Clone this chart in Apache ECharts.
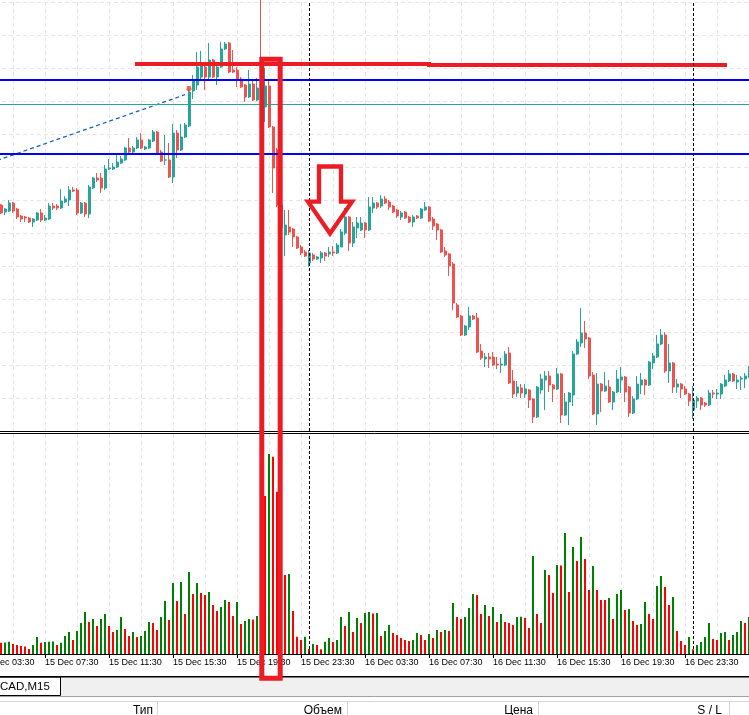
<!DOCTYPE html>
<html><head><meta charset="utf-8">
<script src="https://cdn.jsdelivr.net/npm/echarts@6/dist/echarts.min.js"></script>
<style>html,body{margin:0;padding:0;background:#fff;overflow:hidden}#c{width:749px;height:715px}</style>
</head><body><div id="c"></div><script>
// USDCAD M15, prices in points (price x 10000)
const LEAD = 5; // bars before the first visible one (15 Dec 03:30 .. 04:30)
const categories = [];
for (let i = 0; i < 193; i++) {
  const t = 3 * 60 + 30 + i * 15;
  const day = 15 + Math.floor(t / 1440), m = t % 1440;
  categories.push(day + ' Dec ' + String(Math.floor(m / 60)).padStart(2, '0') + ':' + String(m % 60).padStart(2, '0'));
}
const open = [
13294,13287,13288,13296,13290,13283,13282,13281,13277,13279,
13286,13279,13280,13293,13293,13291,13297,13299,13309,13309,
13286,13296,13285,13311,13321,13321,13311,13330,13330,13332,
13336,13339,13351,13347,13351,13359,13350,13351,13358,13367,
13347,13339,13339,13322,13366,13349,13362,13373,13408,13414,
13422,13432,13422,13439,13422,13432,13450,13456,13429,13429,
13420,13414,13402,13415,13399,13411,13392,13413,13372,13349,
13294,13264,13272,13270,13262,13252,13247,13236,13244,13240,
13241,13246,13245,13247,13246,13252,13266,13282,13256,13271,
13269,13276,13269,13291,13296,13293,13300,13297,13293,13289,
13282,13287,13282,13277,13283,13281,13289,13292,13280,13275,
13269,13248,13245,13235,13194,13183,13164,13172,13183,13181,
13148,13140,13142,13142,13135,13134,13134,13146,13118,13106,
13111,13105,13109,13100,13082,13109,13119,13123,13114,13110,
13125,13084,13097,13104,13145,13156,13166,13161,13124,13085,
13115,13108,13112,13097,13107,13119,13122,13112,13086,13100,
13114,13119,13114,13136,13142,13155,13164,13128,13136,13112,
13115,13110,13105,13089,13098,13101,13096,13094,13106,13105,
13105,13113,13118,13125,13117,13120,13120,13122];
const high = [
13295,13291,13299,13297,13291,13284,13283,13282,13281,13287,
13290,13284,13296,13296,13295,13310,13303,13313,13312,13311,
13297,13297,13314,13322,13326,13326,13334,13340,13336,13346,
13343,13352,13361,13353,13362,13366,13353,13360,13369,13368,
13349,13364,13356,13375,13369,13375,13376,13411,13424,13447,
13448,13436,13456,13440,13436,13457,13457,13457,13449,13432,
13422,13415,13429,13419,13421,13499,13431,13419,13373,13351,
13299,13289,13289,13271,13263,13254,13249,13249,13246,13243,
13248,13247,13252,13253,13256,13270,13291,13283,13277,13282,
13282,13277,13302,13302,13297,13304,13303,13299,13294,13290,
13288,13288,13283,13284,13284,13291,13297,13293,13282,13276,
13270,13252,13246,13237,13196,13184,13174,13192,13184,13186,
13155,13146,13146,13147,13142,13141,13148,13152,13129,13118,
13115,13115,13110,13101,13113,13125,13128,13128,13115,13131,
13126,13106,13107,13148,13160,13191,13178,13162,13127,13126,
13116,13127,13119,13108,13129,13132,13123,13113,13103,13123,
13126,13120,13138,13146,13164,13170,13167,13155,13137,13120,
13116,13113,13106,13113,13103,13102,13097,13109,13109,13110,
13116,13124,13129,13126,13124,13123,13126,13133];
const low = [
13285,13284,13287,13286,13280,13277,13277,13276,13272,13278,
13277,13278,13279,13289,13289,13290,13296,13293,13307,13284,
13285,13282,13281,13310,13317,13306,13309,13329,13329,13331,
13335,13338,13346,13346,13350,13350,13349,13350,13357,13344,
13337,13334,13321,13316,13341,13348,13361,13372,13400,13409,
13419,13409,13419,13421,13414,13431,13449,13426,13426,13412,
13411,13397,13401,13398,13398,13389,13377,13371,13306,13292,
13267,13243,13264,13252,13250,13244,13242,13232,13238,13239,
13236,13238,13242,13243,13245,13252,13264,13248,13252,13261,
13268,13261,13268,13286,13290,13291,13295,13289,13286,13281,
13279,13280,13276,13272,13280,13280,13288,13277,13269,13259,
13246,13242,13223,13189,13181,13163,13163,13169,13179,13146,
13139,13132,13131,13133,13130,13126,13133,13115,13101,13102,
13101,13101,13091,13076,13081,13105,13089,13107,13097,13109,
13076,13083,13074,13093,13144,13152,13151,13120,13084,13074,
13087,13107,13096,13089,13106,13106,13097,13082,13085,13099,
13105,13104,13113,13130,13141,13154,13126,13116,13106,13106,
13101,13104,13093,13080,13091,13089,13092,13093,13101,13100,
13100,13112,13117,13117,13110,13109,13111,13121];
const close = [
13286,13290,13296,13288,13282,13280,13281,13277,13280,13286,
13279,13281,13293,13291,13291,13298,13300,13309,13308,13286,
13296,13285,13312,13321,13319,13311,13330,13331,13332,13337,
13340,13351,13347,13351,13359,13351,13352,13359,13367,13346,
13338,13339,13322,13366,13349,13362,13374,13407,13419,13432,
13436,13422,13439,13422,13432,13450,13455,13427,13427,13420,
13412,13402,13415,13399,13411,13392,13413,13372,13331,13294,
13271,13274,13267,13262,13251,13246,13243,13246,13240,13242,
13246,13243,13247,13246,13254,13267,13282,13256,13272,13276,
13276,13269,13292,13296,13292,13300,13296,13292,13287,13283,
13286,13281,13277,13282,13281,13290,13292,13278,13273,13269,
13247,13244,13233,13196,13182,13164,13173,13183,13180,13147,
13141,13142,13140,13134,13134,13135,13145,13116,13105,13112,
13106,13110,13099,13082,13112,13120,13123,13114,13110,13125,
13084,13097,13106,13145,13157,13166,13160,13123,13085,13115,
13108,13113,13097,13107,13120,13122,13107,13086,13100,13115,
13119,13114,13137,13143,13155,13164,13128,13136,13112,13115,
13110,13105,13098,13099,13101,13094,13094,13106,13105,13106,
13115,13119,13125,13118,13119,13121,13123,13131];
const volume = [
113,115,123,100,90,80,75,50,90,170,
113,120,122,124,90,113,180,220,140,230,
310,420,320,350,280,350,400,280,220,240,
370,250,180,220,170,180,230,320,310,240,
370,530,340,710,530,720,400,820,600,710,
610,590,620,490,430,470,540,520,380,520,
300,330,350,345,380,1650,1580,2000,1973,1623,
1200,790,800,430,173,140,173,50,100,90,
47,123,160,120,140,370,280,420,220,360,
310,410,420,405,410,180,230,290,210,190,
160,140,130,140,210,190,140,200,160,240,
220,240,230,510,370,350,370,460,600,590,
400,490,380,470,320,400,320,310,290,370,
372,360,260,980,400,310,840,790,610,890,
885,1210,620,1070,930,1170,950,640,880,640,
540,539,560,350,600,640,440,450,330,290,
300,520,400,350,680,780,670,490,570,230,
130,90,170,47,90,120,170,310,150,140,
210,220,140,190,220,330,310,370];
// chart objects
const blueLevels = [13419.3, 13345];
const tealLevel = 13395;
const redLevelA = 13435, redLevelB = 13434;
const trendLine = [[4, 13338.5], [51, 13404.3]]; // [category index, price]
const arrowMark = [52, 13410];
const daySeparators = ['16 Dec 00:00', '17 Dec 00:00'];

const blanks = Array(LEAD).fill('-');
const candleData = blanks.concat(open.map((o, i) => [o, close[i], low[i], high[i]]));
const volData = blanks.concat(volume.map((v, i) => ({
  value: v,
  itemStyle: { color: (i > 0 && v > volume[i - 1]) ? '#008000' : '#ff0000' }
})));

const GRIDCOL = '#e6e6e6';
const vSplit = { show: true, interval: (i) => i % 8 === 0, lineStyle: { color: GRIDCOL, type: [4, 3], width: 1 } };
const sepLine = (name) => ({ xAxis: name, lineStyle: { color: '#000', type: [3, 2], width: 1 } });

const chart = echarts.init(document.getElementById('c'), null, { renderer: 'canvas' });
const option = {
  animation: false,
  backgroundColor: '#fff',
  grid: [
    { left: -19, right: 0, top: 2, height: 429, outerBoundsMode: 'none', containLabel: false },
    { left: -19, right: 0, top: 434, height: 220, outerBoundsMode: 'none', containLabel: false }
  ],
  xAxis: [
    { type: 'category', gridIndex: 0, data: categories, boundaryGap: false,
      axisLine: { show: false }, axisTick: { show: false }, axisLabel: { show: false }, splitLine: vSplit },
    { type: 'category', gridIndex: 1, data: categories, boundaryGap: false,
      axisLine: { show: true, lineStyle: { color: '#000', width: 1 } },
      axisTick: { show: true, interval: (i) => i % 16 === 0, length: 4, lineStyle: { color: '#000' } },
      axisLabel: { show: true, interval: (i) => i % 16 === 0, align: 'left', margin: 4, hideOverlap: false,
        fontFamily: 'Liberation Sans', fontSize: 9, color: '#000' },
      splitLine: vSplit }
  ],
  yAxis: [
    { type: 'value', gridIndex: 0, min: 13068, max: 13497, interval: 33,
      axisLabel: { show: false }, axisLine: { show: false }, axisTick: { show: false },
      splitLine: { show: true, lineStyle: { color: GRIDCOL, type: [4, 3], width: 1 } } },
    { type: 'value', gridIndex: 1, min: 0, max: 2200,
      axisLabel: { show: false }, axisLine: { show: false }, axisTick: { show: false }, splitLine: { show: false } }
  ],
  series: [
    { type: 'candlestick', xAxisIndex: 0, yAxisIndex: 0, data: candleData, barWidth: 2.5, clip: false, z: 2,
      itemStyle: { color: '#26a69a', color0: '#ef5350', borderColor: '#26a69a', borderColor0: '#ef5350', borderWidth: 1 } },
    { type: 'bar', xAxisIndex: 1, yAxisIndex: 1, data: volData, barWidth: 2, z: 2 },
    { type: 'line', xAxisIndex: 0, yAxisIndex: 0, z: 4, silent: true, symbol: 'none',
      data: trendLine.map(p => [categories[p[0]], p[1]]),
      lineStyle: { color: '#1a5fb4', width: 1.3, type: [4, 3] },
      markLine: { silent: true, symbol: ['none', 'none'], label: { show: false }, animation: false,
        data: [
          { yAxis: blueLevels[0], lineStyle: { color: '#0000ff', width: 2, type: 'solid' } },
          { yAxis: blueLevels[1], lineStyle: { color: '#0000ff', width: 2, type: 'solid' } },
          { yAxis: tealLevel, lineStyle: { color: '#26a69a', width: 1, type: 'solid' } },
          [ { coord: [categories[39], redLevelA], lineStyle: { color: '#ed1c24', width: 4, type: 'solid', cap: 'square' } },
            { coord: [categories[112], redLevelA] } ],
          [ { coord: [categories[112], redLevelB], lineStyle: { color: '#ed1c24', width: 4, type: 'solid', cap: 'square' } },
            { coord: [categories[186], redLevelB] } ],
          sepLine(daySeparators[0]), sepLine(daySeparators[1])
        ] } },
    { type: 'line', xAxisIndex: 1, yAxisIndex: 1, z: 4, silent: true, symbol: 'none', data: [],
      markLine: { silent: true, symbol: ['none', 'none'], label: { show: false }, animation: false,
        data: [sepLine(daySeparators[0]), sepLine(daySeparators[1])] } },
    { type: 'scatter', xAxisIndex: 0, yAxisIndex: 0, z: 5, silent: true,
      data: [[categories[arrowMark[0]], arrowMark[1]]],
      symbol: 'path://M2,0 L8,0 L8,4 L10,4 L5,9 L0,4 L2,4 Z', symbolSize: [7, 6],
      itemStyle: { color: '#e8461e' } }
  ]
};
chart.setOption(option);

// screenshot overlays (window chrome and hand-drawn annotations)
const px = (k, v) => chart.convertToPixel({ gridIndex: 0 }, [k + LEAD, v]);
const rA = px(65, 13439.8), rB = px(70, 13439.8);
const aP = px(82, 13332.5);
const RED = '#ed1c24';
const arrowPts = [[-10, 0], [12, 0], [12, 35.2], [23, 35.2], [1, 67], [-21, 35.2], [-10, 35.2]]
  .map(p => [aP[0] + p[0], aP[1] + p[1]]);
const txt = (x, y, s, align, size) => ({ type: 'text', z: 50, x: x, y: y,
  style: { text: s, fill: '#000', font: (size || 12) + 'px "Liberation Sans"', textAlign: align || 'left', textVerticalAlign: 'top' } });
const hline = (y, x1, x2, col, w) => ({ type: 'line', z: 50, shape: { x1: x1, y1: y, x2: x2, y2: y }, style: { stroke: col, lineWidth: w || 1 } });
const vline = (x, y1, y2, col) => ({ type: 'line', z: 50, shape: { x1: x, y1: y1, x2: x, y2: y2 }, style: { stroke: col, lineWidth: 1 } });
chart.setOption({
  graphic: [
    hline(431.5, 0, 749, '#000'), hline(433.5, 0, 749, '#000'),
    { type: 'rect', z: 40, shape: { x: 0, y: 677, width: 749, height: 20 }, style: { fill: '#f0f0f0' } },
    { type: 'rect', z: 41, shape: { x: -2, y: 677, width: 62.5, height: 18.5 }, style: { fill: '#fff', stroke: '#000', lineWidth: 1 } },
    hline(676.8, 0, 749, '#000', 1.6),
    hline(696.5, 0, 749, '#a0a0a0'),
    hline(701.5, 0, 749, '#d4d4d4'),
    vline(157.5, 702, 715, '#d4d4d4'), vline(347.5, 702, 715, '#d4d4d4'),
    vline(538.5, 702, 715, '#d4d4d4'), vline(729.5, 702, 715, '#d4d4d4'),
    txt(0, 680.5, 'CAD,M15', 'left', 11.5),
    txt(153, 705, 'Тип', 'right'), txt(342, 705, 'Объем', 'right'),
    txt(533, 705, 'Цена', 'right'), txt(722, 705, 'S / L', 'right'),
    { type: 'rect', z: 100, shape: { x: rA[0] + 0.8, y: rA[1], width: (rB[0] - 0.8) - (rA[0] + 0.8), height: 678.2 - rA[1] },
      style: { fill: 'none', stroke: RED, lineWidth: 5 } },
    { type: 'polygon', z: 100, shape: { points: arrowPts },
      style: { fill: 'none', stroke: RED, lineWidth: 4.3, lineJoin: 'miter', miterLimit: 10 } }
  ]
});
</script></body></html>
